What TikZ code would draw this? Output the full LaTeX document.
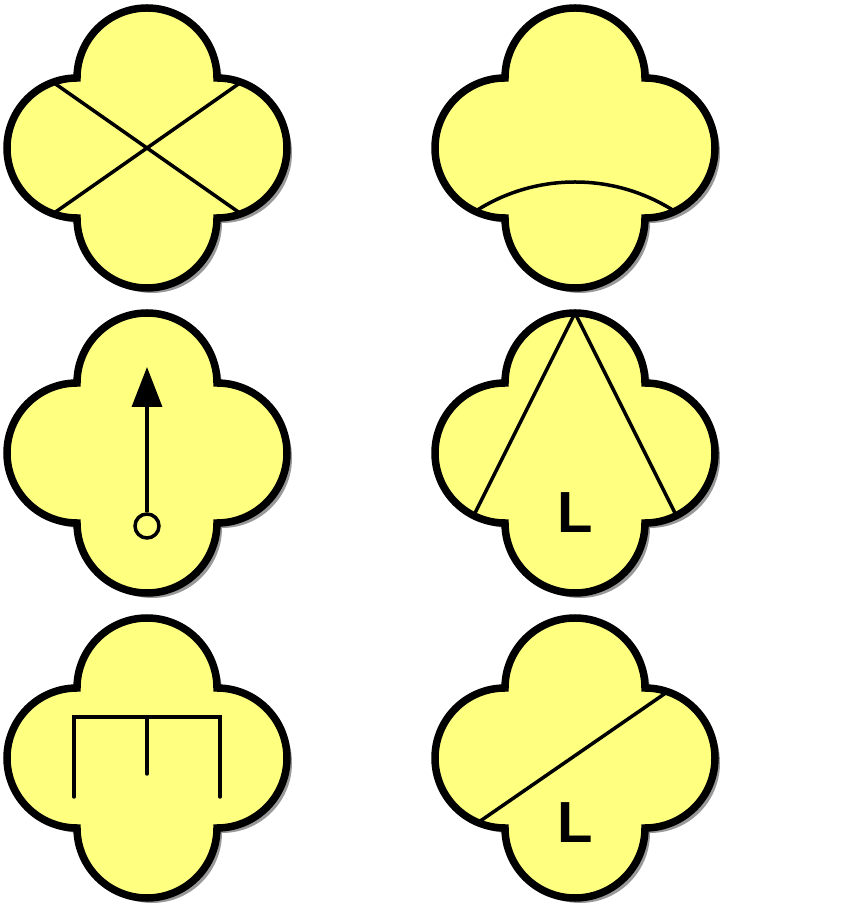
\documentclass[tikz,border=0pt]{standalone}
\usepackage{fontspec}
\setsansfont{Liberation Sans}
\definecolor{foilyellow}{RGB}{255,255,128}
\usetikzlibrary{arrows.meta}
% quatrefoil outline round the current origin
\newcommand{\foilpath}{(70,70) arc[start angle=0,end angle=180,radius=70pt]
  arc[start angle=90,end angle=270,radius=70pt]
  arc[start angle=180,end angle=360,radius=70pt]
  arc[start angle=270,end angle=450,radius=70pt] -- cycle}
\newcommand{\drawfoil}{\fill[foilshadow, shift={(5,-5)}] \foilpath; \path[foil] \foilpath;}

\begin{document}
\begin{tikzpicture}[x=1pt, y=1pt,
    foil/.style={fill=foilyellow, draw=black, line width=7.5pt},
    foilshadow/.style={fill=black!40},
    glyphline/.style={draw=black, line width=3.5pt},
    letter/.style={font=\sffamily\bfseries\fontsize{58pt}{58pt}\selectfont, inner sep=0pt},
  ]
  \useasboundingbox (0,0) rectangle (858,916);

  % row 1: crossed lines
  \begin{scope}[shift={(147,768)}]
    \drawfoil
    \begin{scope}
      \clip \foilpath;
      \draw[glyphline] (-150,-105) -- (150,105);
      \draw[glyphline] (-150,105) -- (150,-105);
    \end{scope}
  \end{scope}
  % row 1: low arc
  \begin{scope}[shift={(575,768)}]
    \drawfoil
    \begin{scope}
      \clip \foilpath;
      \draw[glyphline] (0,-218) circle[radius=184pt];
    \end{scope}
  \end{scope}

  % row 2: arrow from pivot
  \begin{scope}[shift={(147,463)}]
    \drawfoil
    \node[glyphline, circle, minimum size=24pt, inner sep=0pt] (pivot) at (0,-73) {};
    \coordinate (tip) at (0,86);
    \draw[glyphline, -{Triangle[length=40pt, width=30pt]}] (pivot) -- (tip);
  \end{scope}
  % row 2: wedge with L
  \begin{scope}[shift={(575,463)}]
    \drawfoil
    \begin{scope}
      \clip \foilpath;
      \draw[glyphline] (-129,-118) -- (0,140) -- (129,-118);
    \end{scope}
    \node[letter] (wedgeL) at (0,-60) {L};
  \end{scope}

  % row 3: comb
  \begin{scope}[shift={(147,158)}]
    \drawfoil
    \draw[glyphline, line cap=round] (-73,-39) -- (-73,41) -- (73,41) -- (73,-39);
    \draw[glyphline, line cap=round] (0,41) -- (0,-16);
  \end{scope}
  % row 3: diagonal with L
  \begin{scope}[shift={(575,158)}]
    \drawfoil
    \begin{scope}
      \clip \foilpath;
      \draw[glyphline] (-128,-86) -- (124,88);
    \end{scope}
    \node[letter] (diagL) at (0,-65) {L};
  \end{scope}
\end{tikzpicture}
\end{document}
